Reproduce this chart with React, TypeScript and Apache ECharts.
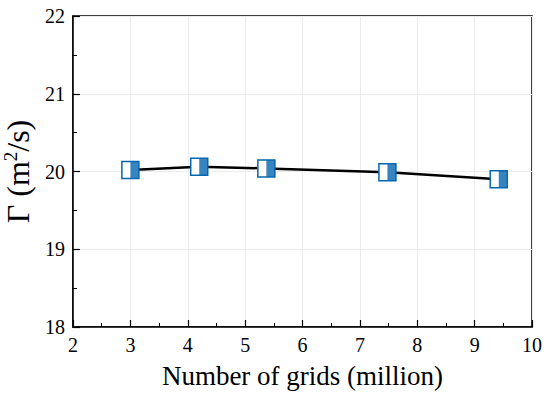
import React, { useEffect, useRef } from "react";
import * as echarts from "echarts";

const gridsMillion = [3.0, 4.2, 5.37, 7.48, 9.42];
const gammaValues = [20.02, 20.06, 20.04, 19.99, 19.9];
const xTicks = [2, 3, 4, 5, 6, 7, 8, 9, 10];
const yTicks = [18, 19, 20, 21, 22];

const BLUE = "#0566b0";
const FONT = "Liberation Serif";

export default function App() {
  const ref = useRef<HTMLDivElement>(null);
  useEffect(() => {
    if (!ref.current) return;
    const chart = echarts.init(ref.current, null, { renderer: "svg" });
    const pts = gridsMillion.map((x, i) => [x, gammaValues[i]]);
    const labelStyle = { color: "#000", fontFamily: FONT, fontSize: 20 };
    chart.setOption({
      animation: false,
      backgroundColor: "#ffffff",
      textStyle: { fontFamily: FONT, color: "#000" },
      grid: {
        left: 73, right: 18, top: 16, bottom: 69,
        containLabel: false,
        outerBoundsMode: "none",
        show: true, borderColor: "#000", borderWidth: 1.5, backgroundColor: "transparent",
      },
      xAxis: {
        type: "value",
        min: xTicks[0],
        max: xTicks[xTicks.length - 1],
        interval: 1,
        name: "Number of grids (million)",
        nameLocation: "middle",
        nameGap: 35,
        nameTextStyle: { fontFamily: FONT, fontSize: 27, color: "#000" },
        axisLine: { show: true, lineStyle: { color: "#000", width: 1.5 } },
        axisTick: { show: true, inside: true, length: 7, lineStyle: { color: "#000", width: 1.2 } },
        minorTick: { show: true, splitNumber: 2, length: 4, lineStyle: { color: "#000", width: 1 } },
        axisLabel: { ...labelStyle, margin: 8 },
        splitLine: { show: true, lineStyle: { color: "#ececec", width: 1 } },
      },
      yAxis: {
        type: "value",
        min: yTicks[0],
        max: yTicks[yTicks.length - 1],
        interval: 1,
        name: "Γ (m{sup|2}/s)",
        nameLocation: "middle",
        nameGap: 35,
        nameRotate: 90,
        nameTextStyle: {
          fontFamily: FONT,
          fontSize: 32,
          color: "#000",
          rich: {
            sup: { fontFamily: FONT, fontSize: 19, color: "#000", padding: [0, 0, 16, 0] },
          },
        },
        axisLine: { show: true, lineStyle: { color: "#000", width: 1.5 } },
        axisTick: { show: true, inside: true, length: 7, lineStyle: { color: "#000", width: 1.2 } },
        minorTick: { show: true, splitNumber: 2, length: 4, lineStyle: { color: "#000", width: 1 } },
        axisLabel: { ...labelStyle, margin: 8 },
        splitLine: { show: true, lineStyle: { color: "#ececec", width: 1 } },
      },
      series: [
        {
          type: "line",
          data: pts,
          symbol: "rect",
          symbolSize: 17,
          lineStyle: { color: "#000", width: 2.5 },
          itemStyle: { color: "#ffffff", borderColor: BLUE, borderWidth: 1.5 },
          z: 2,
        },
        {
          type: "scatter",
          data: pts,
          symbol: "rect",
          symbolSize: [8.5, 17],
          symbolOffset: [4.25, 0],
          itemStyle: { color: BLUE },
          z: 3,
        },
      ],
    });
    return () => chart.dispose();
  }, []);
  return <div ref={ref} style={{ position: "fixed", left: 0, top: 0, width: 550, height: 396 }} />;
}
